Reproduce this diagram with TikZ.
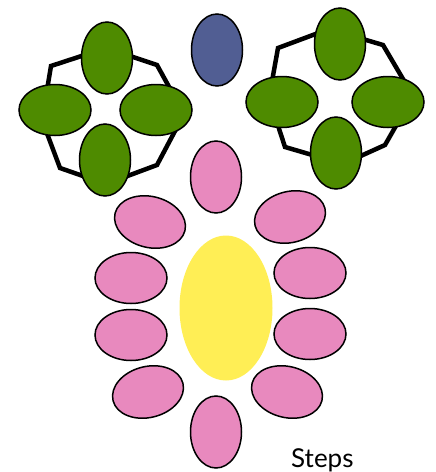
\documentclass[tikz,border=0pt]{standalone}
\usepackage{fontspec}
\newfontfamily\stepsfont{Lato}
\usetikzlibrary{shapes.geometric,positioning}
\definecolor{leafgreen}{HTML}{4E8B00}
\definecolor{beadblue}{HTML}{515E93}
\definecolor{beadpink}{HTML}{E889BE}
\definecolor{beadyellow}{HTML}{FFEE55}

\begin{document}
\begin{tikzpicture}[
  x=1pt, y=-1pt,
  bead/.style={ellipse, draw=black, line width=1.5pt, inner sep=0pt},
  tall/.style={bead, minimum width=51pt, minimum height=72pt},
  wide/.style={bead, minimum width=72pt, minimum height=51pt},
  ring/.style={line width=4.5pt, line join=miter}
]
  \useasboundingbox (0,0) rectangle (436,472);
  % octagon frames under the green beads
  \draw[ring] (106,48) -- (157,65) -- (184,114) -- (157,165) -- (106,184)
    -- (60,168) -- (42,120) -- (51,66) -- cycle;
  \draw[ring] (329,29) -- (383,45) -- (413,96) -- (385,145) -- (343,164)
    -- (285,147) -- (269,98) -- (278,48) -- cycle;
  % left cluster
  \node[tall, fill=leafgreen] (LT) at (107,58)  {};
  \node[wide, fill=leafgreen] (LL) at (55,110)  {};
  \node[wide, fill=leafgreen] (LR) at (156,110) {};
  \node[tall, fill=leafgreen] (LB) at (105,160) {};
  % right cluster
  \node[tall, fill=leafgreen] (RT) at (340,44)  {};
  \node[wide, fill=leafgreen] (RL) at (282,102) {};
  \node[wide, fill=leafgreen] (RR) at (388,102) {};
  \node[tall, fill=leafgreen] (RB) at (336,153) {};
  % middle
  \node[tall, fill=beadblue] (B) at (217,50) {};
  \node[ellipse, fill=beadyellow, minimum width=93pt, minimum height=145pt] (Y) at (226,308) {};
  % pink ring
  \node[tall, fill=beadpink] (P1)  at (216,177) {};
  \node[wide, fill=beadpink, rotate=14]  (P2)  at (290,217) {};
  \node[wide, fill=beadpink, rotate=-14] (P12) at (150,222) {};
  \node[wide, fill=beadpink] (P3)  at (310,273) {};
  \node[wide, fill=beadpink] (P11) at (131,278) {};
  \node[wide, fill=beadpink] (P4)  at (310,334) {};
  \node[wide, fill=beadpink] (P10) at (131,335) {};
  \node[wide, fill=beadpink, rotate=-14] (P5) at (287,392) {};
  \node[wide, fill=beadpink, rotate=14]  (P9) at (148,392) {};
  \node[tall, fill=beadpink] (P7)  at (216,432) {};
  \node[anchor=base west, inner sep=0pt, font=\stepsfont\fontsize{26}{28}\selectfont] (steps) at (291,467) {Steps};
\end{tikzpicture}
\end{document}
